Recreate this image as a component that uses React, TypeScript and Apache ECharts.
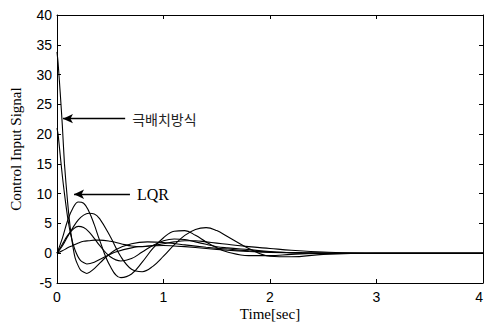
import React, { useEffect, useRef } from "react";
import * as echarts from "echarts";

// time bases (sec)
const timeFast = [0, 0.01, 0.03, 0.05, 0.07, 0.1, 0.13, 0.17, 0.22, 0.28, 0.35, 0.45, 0.55, 0.7, 0.85, 1.0, 1.2, 1.4, 1.6, 1.8, 2.0, 2.3, 2.6, 3.0, 4.0];
const timeOsc = [0, 0.05, 0.1, 0.15, 0.2, 0.25, 0.3, 0.35, 0.4, 0.5, 0.6, 0.7, 0.8, 0.9, 1.0, 1.1, 1.2, 1.3, 1.4, 1.5, 1.6, 1.8, 2.0, 2.2, 2.5, 3.0, 3.5, 4.0];

// control input signals
const polePlacement = [33.8, 32, 27, 21.5, 15, 8.5, 3.5, -0.8, -2.8, -3.4, -2.6, -0.8, 0.6, 1.6, 1.9, 1.8, 1.4, 1.0, 0.7, 0.4, 0.2, 0.05, 0, 0, 0];
const lqr = [21, 20, 16.5, 13, 10, 6, 3, 0.5, -1.2, -1.8, -1.5, -0.6, 0.2, 0.9, 1.2, 1.3, 1.1, 0.8, 0.5, 0.3, 0.15, 0.05, 0, 0, 0];
const curveC = [0, 2.5, 5.5, 7.6, 8.6, 8.4, 7.0, 4.8, 2.2, -2.2, -4.1, -3.5, -1.5, 0.8, 2.6, 3.7, 3.8, 3.0, 1.9, 0.9, 0.2, -0.4, -0.4, -0.2, 0, 0, 0, 0];
const curveD = [0, 1.2, 2.8, 4.3, 5.6, 6.4, 6.7, 6.6, 5.8, 2.8, -0.6, -2.7, -3.1, -2.2, -0.5, 1.4, 3.0, 4.0, 4.3, 3.8, 2.8, 0.8, -0.5, -0.6, -0.2, 0, 0, 0];
const curveE = [0, 1.5, 3.0, 4.0, 4.5, 4.3, 3.6, 2.5, 1.3, -0.6, -1.3, -0.9, 0.2, 1.3, 2.1, 2.4, 2.3, 1.9, 1.5, 1.1, 0.9, 0.6, 0.3, 0.1, 0, 0, 0, 0];
const curveF = [0, 0.4, 0.9, 1.3, 1.7, 2.0, 2.1, 2.2, 2.2, 2.0, 1.6, 1.2, 1.1, 1.3, 1.6, 1.9, 2.1, 2.1, 1.9, 1.7, 1.5, 1.1, 0.8, 0.5, 0.2, 0, 0, 0];

// annotations: [label, startT, tipT, value]
const annotations: [string, number, number, number][] = [
  ["극배치방식", 0.64, 0.056, 22.6],
  ["LQR", 0.685, 0.16, 9.9],
];

const xTicks = { min: 0, max: 4, interval: 1 };
const yTicks = { min: -5, max: 40, interval: 5 };

const pair = (t: number[], v: number[]) => t.map((x, i) => [x, v[i]]);

export default function App() {
  const ref = useRef<HTMLDivElement>(null);
  useEffect(() => {
    if (!ref.current) return;
    const chart = echarts.init(ref.current, null, { renderer: "svg" });
    const lineSeries = (name: string, t: number[], v: number[], smooth: number) => ({
      name,
      type: "line",
      data: pair(t, v),
      showSymbol: false,
      smooth,
      lineStyle: { color: "#000", width: 1.1 },
      z: 3,
    });
    const axisCommon = {
      type: "value",
      axisLine: { show: true, onZero: false, lineStyle: { color: "#000", width: 1 } },
      axisTick: { show: true, inside: true, length: 4, lineStyle: { color: "#000" } },
      splitLine: { show: false },
    };
    const serifFont = "'Liberation Serif', 'DejaVu Serif', serif";
    const sansFont = "'Liberation Sans', Arial, sans-serif";
    chart.setOption({
      animation: false,
      backgroundColor: "#fff",
      grid: { left: 57, right: 2, top: 15, bottom: 39, containLabel: false, outerBoundsMode: "none" },
      xAxis: [
        {
          ...axisCommon,
          ...xTicks,
          position: "bottom",
          name: "Time[sec]",
          nameLocation: "middle",
          nameGap: 23,
          nameMoveOverlap: false,
          nameTextStyle: { color: "#000", fontSize: 15, lineHeight: 15, fontFamily: serifFont },
          axisLabel: { color: "#000", fontSize: 14, lineHeight: 14, fontFamily: sansFont, margin: 7, alignMaxLabel: "right" },
        },
        {
          ...axisCommon,
          ...xTicks,
          position: "top",
          axisLabel: { show: false },
        },
      ],
      yAxis: [
        {
          ...axisCommon,
          ...yTicks,
          position: "left",
          name: "Control Input Signal",
          nameLocation: "middle",
          nameGap: 34,
          nameMoveOverlap: false,
          nameTextStyle: { color: "#000", fontSize: 15, fontFamily: serifFont },
          axisLabel: { color: "#000", fontSize: 14, fontFamily: sansFont, margin: 5 },
        },
        {
          ...axisCommon,
          ...yTicks,
          position: "right",
          axisLabel: { show: false },
        },
      ],
      series: [
        lineSeries("pole", timeFast, polePlacement, 0.2),
        lineSeries("lqr", timeFast, lqr, 0.2),
        lineSeries("c", timeOsc, curveC, 0.4),
        lineSeries("d", timeOsc, curveD, 0.4),
        lineSeries("e", timeOsc, curveE, 0.4),
        lineSeries("f", timeOsc, curveF, 0.4),
        ...annotations.map(([label, t0, t1, v], i) => ({
          type: "line",
          data: [],
          markLine: {
            silent: true,
            symbol: ["none", "arrow"],
            symbolSize: [7, 10],
            lineStyle: { color: "#000", width: 1.3, type: "solid" },
            label: {
              show: true,
              position: "start",
              distance: 7,
              formatter: label,
              color: i === 0 ? "#222" : "#000",
              fontSize: i === 0 ? 14 : 16,
              fontFamily: i === 0 ? "'Noto Sans CJK KR', sans-serif" : serifFont,
            },
            data: [[{ coord: [t0, v] }, { coord: [t1, v] }]],
          },
        })),
      ],
    });
    return () => chart.dispose();
  }, []);
  return <div ref={ref} style={{ width: 485, height: 322, position: "absolute", left: 0, top: 0 }} />;
}
